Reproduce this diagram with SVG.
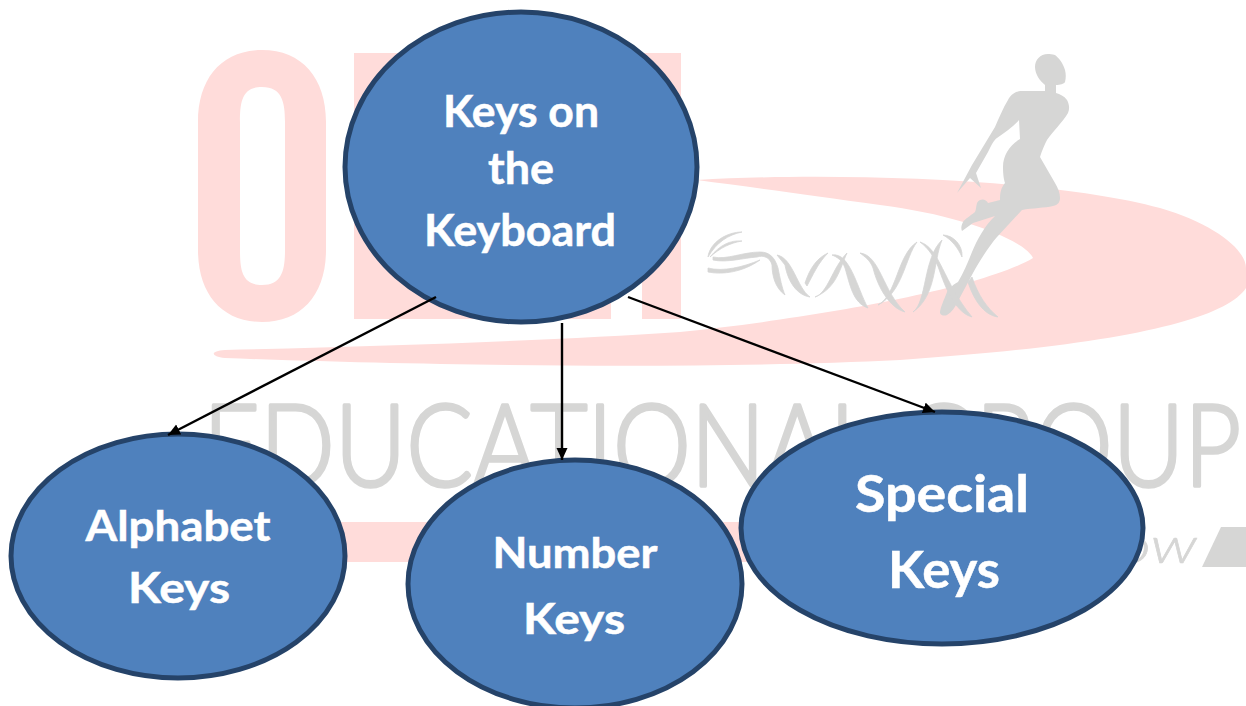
<svg xmlns="http://www.w3.org/2000/svg" width="1246" height="706" viewBox="0 0 1246 706">
<style>
.pink{fill:#ffdcda}
.gray{fill:#d6d6d5}
.node{fill:#4f81bd;stroke:#254369;stroke-width:5}
.lbl{font-family:"Lato","Open Sans",sans-serif;font-weight:700;fill:#fff;stroke:#fff;stroke-width:.5;text-anchor:middle}
.wm{font-family:"Lato","Open Sans",sans-serif;font-weight:300;fill:#d6d6d5;stroke:#d6d6d5;stroke-linejoin:round}
.conn{fill:none;stroke:#000;stroke-width:2.4;marker-end:url(#arrow)}
</style>
<defs>
<marker id="arrow" markerUnits="userSpaceOnUse" markerWidth="13" markerHeight="12" refX="12" refY="5.5" orient="auto">
<path d="M0,0L12,5.5L0,11Z" fill="#000"/>
</marker>
</defs>
<rect width="1246" height="706" fill="#fff"/>
<g id="watermark">
<path class="pink" fill-rule="evenodd" d="M262,50C222,50 198,78 198,122V250C198,294 222,322 262,322C302,322 326,294 326,250V122C326,78 302,50 262,50ZM262,87C282,87 285,102 285,122V250C285,270 282,285 262,285C242,285 240,270 240,250V122C240,102 242,87 262,87Z"/>
<path class="pink" d="M354,53H681V319H642V240H611V319H354Z"/>
<path class="pink" d="M697,180C830,172 1050,178 1160,208C1215,224 1246,250 1246,268V288C1225,320 1120,345 900,360C700,370 400,365 225,358C210,356 210,351 225,350C400,346 560,340 680,332C800,320 980,290 1033,258C1025,240 960,215 880,205C810,195 750,187 697,180Z"/>
<rect class="pink" x="320" y="522" width="430" height="40"/>
<text class="wm" x="203" y="486" font-size="114" stroke-width="3.5" textLength="1038" lengthAdjust="spacingAndGlyphs">EDUCATIONAL GROUP</text>
<text class="wm" x="1117" y="563" font-size="50" font-style="italic" stroke-width=".6" textLength="80" lengthAdjust="spacingAndGlyphs">ow</text>
<path class="gray" d="M1202,567L1221,527H1246V567Z"/>
<path class="gray" d="M1048,54C1040,54 1035,60 1035,67C1035,74 1040,81 1045,85V91H1022C1014,91 1010,96 1008,100C1003,108 999,118 995,127L972,165L957,193L970,178L981,188L976,173L988,152C992,144 994,140 997,138C1005,132 1013,127 1019,120L1020,139C1010,145 1003,155 1003,167C1003,175 1004,180 1005,183C1001,188 1000,192 1000,200L988,203C986,199 980,198 977,203C976,207 976,210 975,212C970,216 965,219 963,222C961,226 961,229 962,231L973,223L995,216C985,225 977,240 972,252C968,262 964,272 958,282C952,285 948,290 947,292C944,300 940,308 940,313C941,316 945,316 947,315C952,312 955,307 957,303L973,273C980,260 990,245 997,237L1022,210C1032,208 1045,208 1053,206C1058,205 1060,202 1060,198C1060,193 1058,188 1055,183L1040,157C1042,150 1045,144 1047,140C1053,131 1062,123 1068,113C1070,108 1069,104 1067,100C1064,96 1060,94 1056,93V85C1060,85 1064,84 1065,82C1066,78 1066,74 1065,70C1063,63 1059,58 1055,55C1052,54 1050,54 1048,54Z"/>
<path class="gray" stroke="#d6d6d5" stroke-width=".8" d="M708,257C710,242 727,232 742,232C728,235 717,242 708,257ZM710,257C720,245 730,240 742,241C730,243 720,248 710,257ZM713,257C727,260 743,252 760,252C770,252 775,258 778,268C780,278 782,288 785,295C775,288 772,275 772,265C770,257 763,255 757,257C743,258 727,263 713,260ZM708,268C723,272 743,267 760,260C743,272 723,275 708,272Z"/>
<path class="gray" stroke="#d6d6d5" stroke-width=".8" d="M777,255C793,258 797,288 810,297C797,295 788,282 785,265ZM805,283C810,268 817,258 828,253C818,263 813,275 807,286ZM815,297C828,293 832,268 847,253C840,268 837,288 815,297ZM832,255C850,252 857,288 868,308C853,303 850,285 845,268C842,260 837,257 832,255ZM860,253C880,255 883,292 905,312C890,308 878,288 873,268C870,260 865,257 860,253ZM878,305C897,295 897,255 917,242C905,258 903,292 878,305ZM913,312C927,302 923,258 942,240C933,262 937,295 913,312ZM920,242C940,248 943,282 972,317C957,313 947,292 940,272C935,257 928,248 920,242ZM943,235C953,235 963,245 962,257C958,248 952,240 943,235ZM972,277C978,295 987,308 998,317C983,315 973,298 968,282Z"/>
</g>
<g id="node-keys"><ellipse class="node" cx="521" cy="167" rx="176" ry="155"/>
<text class="lbl" x="521" y="127" font-size="44" textLength="156" lengthAdjust="spacingAndGlyphs">Keys on</text>
<text class="lbl" x="521" y="184" font-size="44" textLength="66" lengthAdjust="spacingAndGlyphs">the</text>
<text class="lbl" x="520" y="246" font-size="44" textLength="192" lengthAdjust="spacingAndGlyphs">Keyboard</text></g>
<g id="node-alphabet"><ellipse class="node" cx="178" cy="556" rx="167" ry="122"/>
<text class="lbl" x="178" y="541" font-size="42" textLength="185" lengthAdjust="spacingAndGlyphs">Alphabet</text>
<text class="lbl" x="179" y="603" font-size="42" textLength="102" lengthAdjust="spacingAndGlyphs">Keys</text></g>
<g id="node-number"><ellipse class="node" cx="575" cy="584" rx="167" ry="124"/>
<text class="lbl" x="575" y="568" font-size="42" textLength="165" lengthAdjust="spacingAndGlyphs">Number</text>
<text class="lbl" x="574" y="634" font-size="42" textLength="102" lengthAdjust="spacingAndGlyphs">Keys</text></g>
<g id="node-special"><ellipse class="node" cx="942" cy="528" rx="201" ry="116"/>
<text class="lbl" x="942" y="512" font-size="52" textLength="174" lengthAdjust="spacingAndGlyphs">Special</text>
<text class="lbl" x="944" y="588" font-size="52" textLength="112" lengthAdjust="spacingAndGlyphs">Keys</text></g>
<g id="connectors">
<line class="conn" x1="436" y1="297" x2="168" y2="435"/>
<line class="conn" x1="562" y1="323" x2="562" y2="460"/>
<line class="conn" x1="628" y1="297" x2="935" y2="412"/>
</g>
</svg>
